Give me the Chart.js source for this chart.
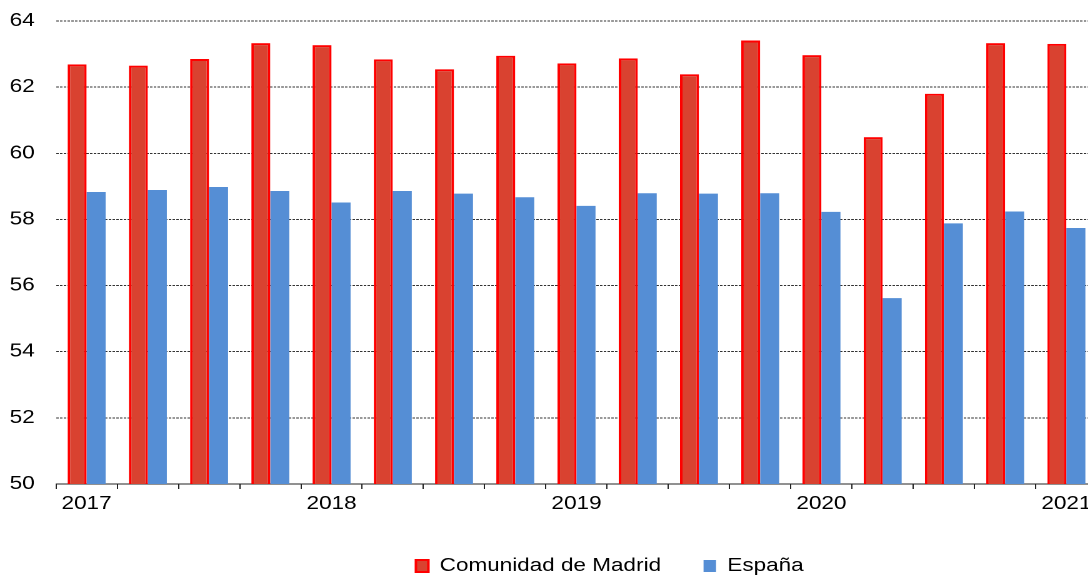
<!DOCTYPE html>
<html>
<head>
<meta charset="utf-8">
<script src="https://cdn.jsdelivr.net/npm/chart.js@4.4.1/dist/chart.umd.min.js"></script>
<style>
  html, body { margin: 0; padding: 0; background: #fff; overflow: hidden; }
  /* the original image is stretched horizontally, text included */
  #wrap { position: relative; width: 880px; height: 585px; transform: scaleX(1.25); transform-origin: 0 0; }
</style>
</head>
<body>
<div id="wrap"><canvas id="chart"></canvas></div>
<script>
const categories = [
  "2017T1", "2017T2", "2017T3", "2017T4",
  "2018T1", "2018T2", "2018T3", "2018T4",
  "2019T1", "2019T2", "2019T3", "2019T4",
  "2020T1", "2020T2", "2020T3", "2020T4",
  "2021T1"
];
const xTickLabels = [
  "2017", "", "", "",
  "2018", "", "", "",
  "2019", "", "", "",
  "2020", "", "", "",
  "2021"
];
const madrid = [62.69, 62.65, 62.85, 63.33, 63.27, 62.84, 62.54, 62.95, 62.72, 62.87, 62.39, 63.41, 62.97, 60.49, 61.80, 63.33, 63.31];
const espana = [58.83, 58.89, 58.98, 58.86, 58.51, 58.86, 58.78, 58.67, 58.41, 58.79, 58.78, 58.79, 58.23, 55.62, 57.88, 58.24, 57.74];
const yMin = 50, yMax = 64, yStep = 2;

const font = "'Liberation Sans', Arial, sans-serif";

// move the legend a bit right, as in the original
const legendShift = {
  id: "legendShift",
  afterLayout(chart) {
    chart.legend.left += 49;
    chart.legend.right += 49;
  }
};

const ctx = document.getElementById("chart").getContext("2d");
new Chart(ctx, {
  type: "bar",
  data: {
    labels: categories,
    datasets: [{
      label: "Comunidad de Madrid",
      data: madrid,
      backgroundColor: "#D94230",
      borderColor: "#FF0000",
      borderWidth: 2,
      borderSkipped: "bottom",
      categoryPercentage: 0.62,
      barPercentage: 1.0
    }, {
      label: "España",
      data: espana,
      backgroundColor: "#558ED5",
      borderWidth: 0,
      categoryPercentage: 0.62,
      barPercentage: 1.0
    }]
  },
  options: {
    responsive: true,
    maintainAspectRatio: false,
    devicePixelRatio: 2,
    animation: false,
    layout: { padding: { top: 21, right: 2.4, left: 0, bottom: 0 } },
    plugins: {
      tooltip: { enabled: false },
      legend: {
        position: "bottom",
        labels: {
          color: "#000",
          font: { family: font, size: 18 },
          boxWidth: 10,
          boxHeight: 12,
          padding: 34
        }
      }
    },
    scales: {
      x: {
        afterFit(scale) { scale.height = 39; },
        grid: {
          display: true,
          drawOnChartArea: false,
          drawTicks: true,
          tickLength: 5,
          color: "#222",
          offset: true
        },
        border: { display: true, color: "#222", width: 1 },
        ticks: {
          autoSkip: false,
          maxRotation: 0,
          padding: 4,
          color: "#000",
          font: { family: font, size: 18 },
          callback: (v, i) => xTickLabels[i]
        }
      },
      y: {
        min: yMin,
        max: yMax,
        afterFit(scale) {
          scale.width = 44.8;
          scale.paddingTop = 10;
          scale.paddingBottom = 10;
        },
        grid: {
          color: "#333",
          drawTicks: false
        },
        border: { display: false, dash: [2, 1] },
        ticks: {
          stepSize: yStep,
          padding: 17,
          color: "#000",
          font: { family: font, size: 18 }
        }
      }
    }
  },
  plugins: [legendShift]
});
</script>
</body>
</html>
